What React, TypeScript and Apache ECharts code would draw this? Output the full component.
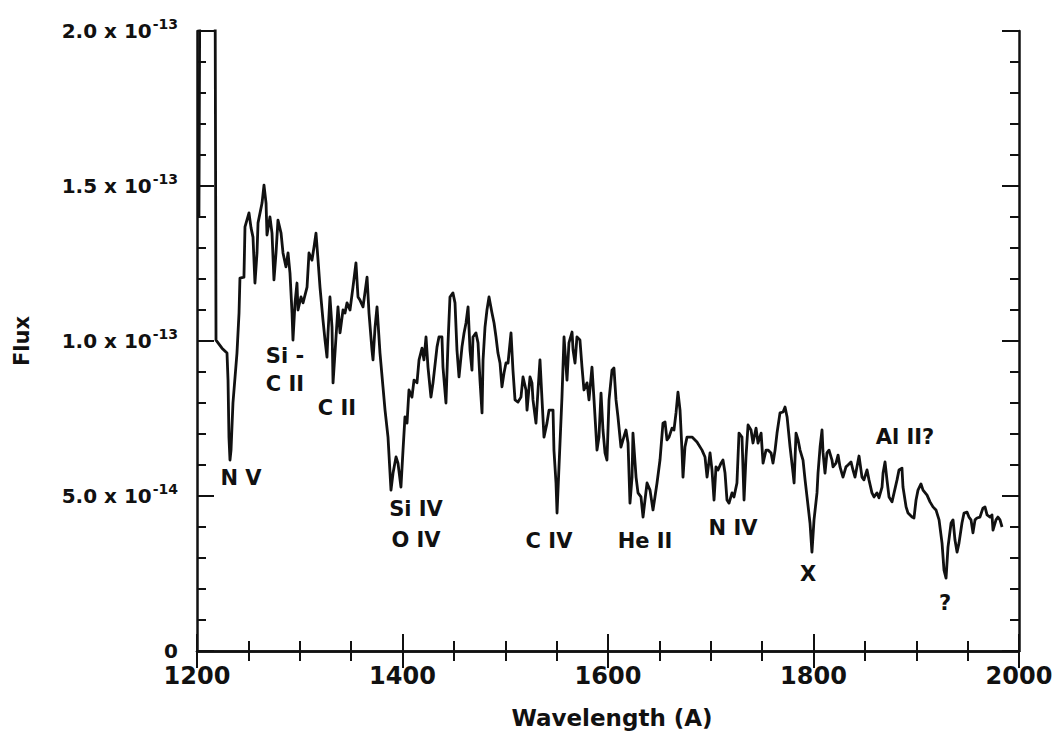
import React, { useEffect, useRef } from "react";
import * as echarts from "echarts";

// Wavelength (Angstrom)
const wavelength: number[] = [
  1201.9, 1202.9, 1217.5, 1218.5, 1224.3, 1229.2, 1230.2, 1231.1, 1232.1, 1233.1,
  1235.0, 1238.9, 1240.9, 1241.8, 1245.7, 1246.7, 1250.6, 1252.6, 1254.5, 1256.4,
  1258.4, 1259.4, 1263.3, 1265.2, 1267.2, 1268.1, 1271.0, 1273.0, 1274.9, 1276.9,
  1278.8, 1281.8, 1283.7, 1286.6, 1288.6, 1290.5, 1292.5, 1293.4, 1295.4, 1297.3,
  1298.3, 1301.2, 1303.2, 1307.1, 1309.0, 1311.9, 1313.9, 1315.8, 1317.8, 1319.7,
  1322.6, 1324.6, 1326.5, 1327.5, 1329.4, 1331.4, 1332.4, 1335.3, 1337.2, 1339.2,
  1342.1, 1344.0, 1346.0, 1348.9, 1351.8, 1354.7, 1356.7, 1358.6, 1361.6, 1365.5,
  1367.4, 1370.3, 1371.3, 1373.3, 1375.2, 1378.1, 1381.0, 1383.0, 1385.9, 1388.8,
  1390.8, 1393.7, 1395.6, 1398.5, 1400.5, 1402.4, 1404.4, 1406.3, 1409.2, 1411.2,
  1414.1, 1416.1, 1419.0, 1420.9, 1422.9, 1424.8, 1427.7, 1429.7, 1433.6, 1435.5,
  1438.4, 1439.4, 1442.3, 1444.3, 1446.2, 1449.1, 1451.1, 1453.0, 1455.0, 1457.9,
  1459.9, 1461.8, 1463.8, 1465.7, 1467.6, 1468.6, 1471.5, 1473.5, 1475.4, 1477.4,
  1478.4, 1480.3, 1482.2, 1484.2, 1487.1, 1489.1, 1491.0, 1492.9, 1494.9, 1496.8,
  1498.8, 1500.7, 1502.7, 1505.6, 1507.5, 1509.5, 1512.4, 1515.3, 1517.3, 1520.2,
  1521.2, 1524.1, 1526.0, 1527.0, 1529.9, 1531.9, 1533.8, 1535.8, 1537.7, 1540.6,
  1542.6, 1546.5, 1547.4, 1549.4, 1550.4, 1552.3, 1555.2, 1557.2, 1560.1, 1562.0,
  1565.0, 1566.0, 1567.9, 1569.8, 1572.7, 1574.7, 1576.6, 1579.6, 1581.5, 1584.4,
  1586.4, 1589.3, 1591.2, 1593.2, 1595.1, 1597.1, 1599.0, 1601.0, 1603.9, 1605.8,
  1607.8, 1609.7, 1612.6, 1614.6, 1617.5, 1619.5, 1621.4, 1623.4, 1624.3, 1627.3,
  1629.2, 1632.1, 1634.1, 1636.0, 1638.0, 1640.9, 1643.8, 1645.7, 1647.7, 1650.6,
  1653.5, 1655.5, 1657.4, 1659.4, 1662.3, 1664.2, 1666.2, 1668.1, 1670.1, 1672.0,
  1673.0, 1674.9, 1676.9, 1681.8, 1686.6, 1691.5, 1694.4, 1696.4, 1699.3, 1701.2,
  1703.2, 1705.1, 1707.1, 1710.0, 1711.9, 1713.9, 1715.8, 1717.8, 1720.7, 1722.6,
  1725.5, 1727.5, 1730.4, 1732.4, 1734.3, 1736.3, 1739.2, 1741.1, 1744.1, 1746.0,
  1749.0, 1750.9, 1753.8, 1755.8, 1758.7, 1760.6, 1762.6, 1764.5, 1767.4, 1770.4,
  1772.3, 1774.3, 1777.2, 1780.1, 1781.1, 1783.0, 1785.0, 1786.9, 1789.8, 1791.8,
  1793.7, 1796.6, 1798.5, 1800.5, 1803.4, 1804.4, 1806.4, 1808.3, 1809.3, 1811.2,
  1813.1, 1815.1, 1818.0, 1819.0, 1821.9, 1823.9, 1825.8, 1828.7, 1831.6, 1833.6,
  1836.5, 1838.4, 1840.4, 1842.3, 1844.3, 1847.2, 1849.1, 1852.1, 1854.0, 1856.9,
  1858.9, 1861.8, 1863.7, 1866.7, 1867.7, 1869.6, 1871.5, 1873.5, 1876.4, 1878.4,
  1881.3, 1883.2, 1886.1, 1887.1, 1890.1, 1892.0, 1895.9, 1897.8, 1899.8, 1901.7,
  1904.6, 1906.6, 1910.5, 1913.4, 1916.3, 1919.2, 1922.2, 1925.1, 1927.0, 1929.0,
  1930.9, 1933.9, 1935.8, 1937.7, 1939.7, 1941.6, 1944.5, 1946.5, 1949.4, 1951.3,
  1953.3, 1955.2, 1957.2, 1959.1, 1962.0, 1964.9, 1966.9, 1968.9, 1971.8, 1973.7,
  1974.7, 1977.6, 1979.5, 1981.5, 1983.5,
];

// Flux, in units of 1e-13
const flux: number[] = [
  1.40, 2.30, 2.30, 1.003, 0.977, 0.961, 0.874, 0.690, 0.616, 0.648,
  0.800, 0.961, 1.090, 1.203, 1.206, 1.368, 1.413, 1.365, 1.335, 1.187,
  1.284, 1.381, 1.445, 1.503, 1.445, 1.342, 1.400, 1.348, 1.197, 1.284,
  1.390, 1.348, 1.284, 1.239, 1.284, 1.219, 1.090, 1.003, 1.123, 1.187,
  1.100, 1.142, 1.123, 1.174, 1.284, 1.261, 1.303, 1.348, 1.261, 1.174,
  1.068, 1.003, 0.948, 1.026, 1.142, 1.045, 0.865, 1.013, 1.110, 1.026,
  1.100, 1.090, 1.123, 1.100, 1.174, 1.252, 1.142, 1.132, 1.110, 1.206,
  1.090, 0.971, 0.939, 1.045, 1.110, 0.961, 0.852, 0.777, 0.690, 0.519,
  0.574, 0.626, 0.606, 0.529, 0.648, 0.755, 0.735, 0.842, 0.819, 0.874,
  0.865, 0.939, 0.977, 0.939, 1.013, 0.916, 0.819, 0.865, 0.981, 1.013,
  1.013, 0.916, 0.800, 0.994, 1.142, 1.155, 1.123, 0.971, 0.884, 0.981,
  1.026, 1.058, 1.110, 0.971, 0.906, 1.013, 1.026, 0.994, 0.874, 0.768,
  0.939, 1.045, 1.100, 1.142, 1.090, 1.058, 1.013, 0.961, 0.929, 0.852,
  0.897, 0.929, 0.929, 1.026, 0.906, 0.810, 0.803, 0.819, 0.884, 0.842,
  0.777, 0.884, 0.865, 0.810, 0.735, 0.842, 0.939, 0.810, 0.690, 0.735,
  0.777, 0.777, 0.648, 0.542, 0.445, 0.594, 0.819, 1.013, 0.874, 0.994,
  1.029, 0.971, 0.929, 1.013, 1.003, 0.916, 0.842, 0.865, 0.810, 0.916,
  0.810, 0.648, 0.690, 0.832, 0.713, 0.639, 0.616, 0.810, 0.906, 0.913,
  0.810, 0.755, 0.658, 0.681, 0.713, 0.671, 0.477, 0.561, 0.703, 0.561,
  0.510, 0.497, 0.432, 0.487, 0.542, 0.519, 0.455, 0.497, 0.542, 0.616,
  0.735, 0.739, 0.681, 0.690, 0.719, 0.713, 0.768, 0.835, 0.777, 0.648,
  0.561, 0.658, 0.690, 0.690, 0.674, 0.648, 0.626, 0.561, 0.639, 0.584,
  0.487, 0.594, 0.584, 0.606, 0.616, 0.574, 0.487, 0.477, 0.510, 0.497,
  0.542, 0.703, 0.690, 0.487, 0.626, 0.729, 0.713, 0.671, 0.719, 0.671,
  0.703, 0.606, 0.648, 0.648, 0.639, 0.606, 0.648, 0.703, 0.768, 0.771,
  0.787, 0.755, 0.658, 0.574, 0.542, 0.703, 0.681, 0.648, 0.616, 0.552,
  0.497, 0.413, 0.319, 0.423, 0.510, 0.574, 0.658, 0.713, 0.639, 0.574,
  0.639, 0.648, 0.616, 0.594, 0.606, 0.632, 0.594, 0.561, 0.594, 0.600,
  0.610, 0.584, 0.561, 0.594, 0.629, 0.561, 0.552, 0.584, 0.552, 0.510,
  0.497, 0.510, 0.494, 0.529, 0.574, 0.610, 0.552, 0.497, 0.481, 0.510,
  0.552, 0.584, 0.590, 0.529, 0.465, 0.445, 0.432, 0.429, 0.487, 0.519,
  0.539, 0.519, 0.503, 0.481, 0.465, 0.455, 0.423, 0.348, 0.261, 0.235,
  0.335, 0.413, 0.423, 0.358, 0.319, 0.348, 0.413, 0.445, 0.448, 0.432,
  0.423, 0.381, 0.423, 0.429, 0.432, 0.461, 0.465, 0.439, 0.432, 0.439,
  0.390, 0.423, 0.432, 0.423, 0.400,
];

const xTicks = { min: 1200, max: 2000, interval: 200 };
const yTicks = { min: 0, max: 2, interval: 0.5 };

// Line identifications
const lineLabels: string[] = ["N V", "Si -", "C II", "C II", "Si IV", "O IV", "C IV", "He II", "N IV", "X", "Al II?", "?"];

const FONT = '"DejaVu Sans", "Liberation Sans", Arial, sans-serif';
const labelPos: [number, number][] = [
  [241, 478], [285, 356], [285, 384], [337, 408], [416, 509], [416, 540],
  [549, 541], [645, 541], [733, 528], [808, 574], [905, 437], [945, 603],
];

export default function App() {
  const ref = useRef<HTMLDivElement>(null);
  useEffect(() => {
    document.body.style.margin = "0";
    const chart = echarts.init(ref.current!, undefined, { renderer: "svg" });
    const data = wavelength.map((w, i) => [w, flux[i]]);
    const axisLineStyle = { color: "#111", width: 2.5 };
    const yFormatter = (v: number) => {
      if (v === 0) return "{m|0}";
      if (v < 1) return `{m|${(v * 10).toFixed(1)} x 10}{s|-14}`;
      return `{m|${v.toFixed(1)} x 10}{s|-13}`;
    };
    chart.setOption({
      animation: false,
      backgroundColor: "#fff",
      grid: { left: 197, right: 38, top: 31, bottom: 81, containLabel: false },
      xAxis: [
        {
          type: "value",
          min: xTicks.min,
          max: xTicks.max,
          interval: xTicks.interval,
          position: "bottom",
          axisLine: { lineStyle: axisLineStyle },
          axisTick: { inside: true, length: 17, lineStyle: { color: "#111", width: 2 } },
          minorTick: { show: true, splitNumber: 4, length: 10, lineStyle: { color: "#111", width: 2 } },
          splitLine: { show: false },
          axisLabel: {
            margin: 13,
            color: "#111",
            fontSize: 24,
            fontWeight: "bold",
            fontFamily: FONT,
            formatter: (v: number) => String(v),
          },
        },
        {
          type: "value",
          min: xTicks.min,
          max: xTicks.max,
          interval: xTicks.interval,
          position: "top",
          axisLine: { lineStyle: axisLineStyle },
          axisTick: { inside: true, length: 17, lineStyle: { color: "#111", width: 2 } },
          minorTick: { show: true, splitNumber: 4, length: 10, lineStyle: { color: "#111", width: 2 } },
          splitLine: { show: false },
          axisLabel: { show: false },
        },
      ],
      yAxis: [
        {
          type: "value",
          min: yTicks.min,
          max: yTicks.max,
          interval: yTicks.interval,
          position: "left",
          axisLine: { show: true, lineStyle: axisLineStyle },
          axisTick: { show: true, inside: true, length: 17, lineStyle: { color: "#111", width: 2 } },
          minorTick: { show: true, splitNumber: 5, length: 9, lineStyle: { color: "#111", width: 2 } },
          splitLine: { show: false },
          axisLabel: {
            margin: 19,
            formatter: yFormatter,
            rich: {
              m: { fontSize: 20, fontWeight: "bold", fontFamily: FONT, color: "#111" },
              s: { fontSize: 14, fontWeight: "bold", fontFamily: FONT, color: "#111", padding: [0, 0, 14, 1] },
            },
          },
        },
        {
          type: "value",
          min: yTicks.min,
          max: yTicks.max,
          interval: yTicks.interval,
          position: "right",
          axisLine: { show: true, lineStyle: axisLineStyle },
          axisTick: { show: true, inside: true, length: 17, lineStyle: { color: "#111", width: 2 } },
          minorTick: { show: true, splitNumber: 5, length: 9, lineStyle: { color: "#111", width: 2 } },
          splitLine: { show: false },
          axisLabel: { show: false },
        },
      ],
      series: [
        {
          type: "line",
          data,
          xAxisIndex: 0,
          yAxisIndex: 0,
          showSymbol: false,
          symbol: "none",
          clip: true,
          lineStyle: { color: "#111", width: 2.8, join: "round" },
          z: 1,
        },
      ],
      graphic: [
        {
          type: "text",
          x: 612,
          y: 718,
          style: {
            text: "Wavelength (A)",
            fontSize: 23,
            fontWeight: "bold",
            fontFamily: FONT,
            fill: "#111",
            align: "center",
            verticalAlign: "middle",
            textAlign: "center",
            textVerticalAlign: "middle",
          },
        },
        {
          type: "text",
          x: 22,
          y: 341,
          rotation: Math.PI / 2,
          style: {
            text: "Flux",
            fontSize: 21,
            fontWeight: "bold",
            fontFamily: FONT,
            fill: "#111",
            align: "center",
            verticalAlign: "middle",
            textAlign: "center",
            textVerticalAlign: "middle",
          },
        },
        ...lineLabels.map((t, i) => ({
          type: "text",
          x: labelPos[i][0],
          y: labelPos[i][1],
          style: {
            text: t,
            fontSize: 21,
            fontWeight: "bold",
            fontFamily: FONT,
            fill: "#111",
            align: "center",
            verticalAlign: "middle",
            textAlign: "center",
            textVerticalAlign: "middle",
          },
        })),
      ],
    });
    return () => chart.dispose();
  }, []);
  return <div ref={ref} style={{ width: 1057, height: 732 }} />;
}
